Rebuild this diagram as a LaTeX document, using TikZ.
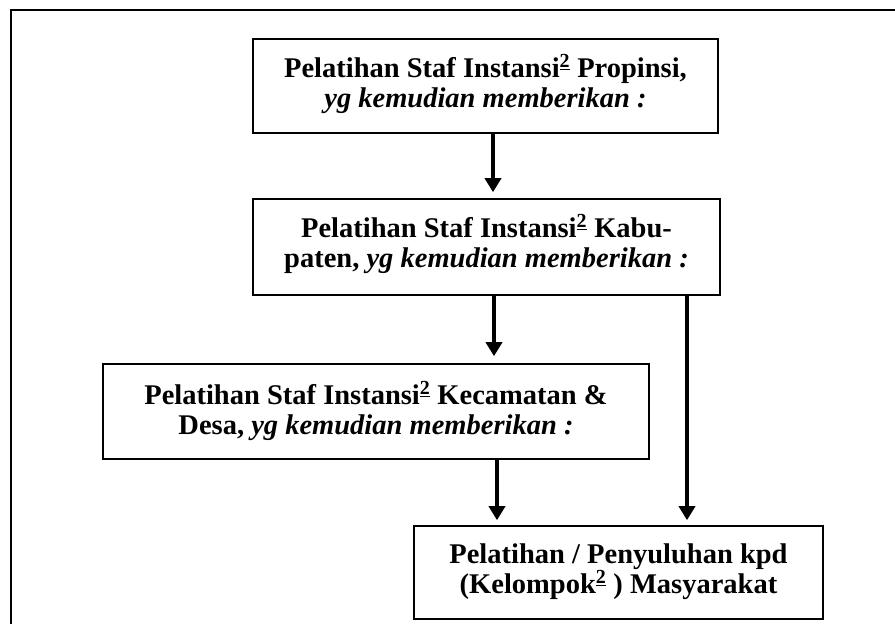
\documentclass[tikz,border=0pt]{standalone}
\usepackage{fontspec}
\setmainfont{Liberation Serif}
\usetikzlibrary{arrows.meta}

\newcommand{\dua}{\textsuperscript{\underline{2}}}

\begin{document}
\begin{tikzpicture}[x=1pt,y=-1pt]
  \tikzset{box/.style={draw, rectangle, line width=1.6pt, inner sep=0pt},
           teks/.style={align=center, anchor=base, inner sep=0pt,
                        font=\fontsize{28.5}{30}\selectfont\bfseries},
           panah/.style={-{Triangle[width=16pt,length=14pt]}, line width=4.5pt}}
  \useasboundingbox (0,0) rectangle (895,624);
  \clip (0,0) rectangle (895,624);
  \draw[line width=2.6pt] (11,10) rectangle (910,640);

  % kotak
  \node[box, minimum width=465, minimum height=94] (prop) at (485.5,86) {};
  \node[box, minimum width=467, minimum height=96] (kab) at (486.5,247) {};
  \node[box, minimum width=546, minimum height=95] (kec) at (376,411.5) {};
  \node[box, minimum width=409, minimum height=93] (mas) at (618.5,572.5) {};

  % teks (base = baris terakhir)
  \node[teks] (propT) at (485.5,107) {Pelatihan Staf Instansi\dua{} Propinsi,\\ \textit{yg kemudian memberikan :}};
  \node[teks] (kabT) at (486.5,267) {Pelatihan Staf Instansi\dua{} Kabu-\\ paten, \textit{yg kemudian memberikan :}};
  \node[teks] (kecT) at (376,434) {Pelatihan Staf Instansi\dua{} Kecamatan \&\\ Desa, \textit{yg kemudian memberikan :}};
  \node[teks] (masT) at (618.5,593) {Pelatihan / Penyuluhan kpd\\ (Kelompok\dua{} ) Masyarakat};

  % panah
  \draw[panah, shorten >=6pt] ([xshift=7.5pt]prop.south) -- ([xshift=7.5pt]prop.south |- kab.north);
  \draw[panah, shorten >=7pt] ([xshift=7.5pt]kab.south) -- ([xshift=7.5pt]kab.south |- kec.north);
  \draw[panah, shorten >=5pt] ([xshift=121pt]kec.south) -- ([xshift=121pt]kec.south |- mas.north);
  \draw[panah, shorten >=5pt] ([xshift=200.5pt]kab.south) -- ([xshift=200.5pt]kab.south |- mas.north);
\end{tikzpicture}
\end{document}
